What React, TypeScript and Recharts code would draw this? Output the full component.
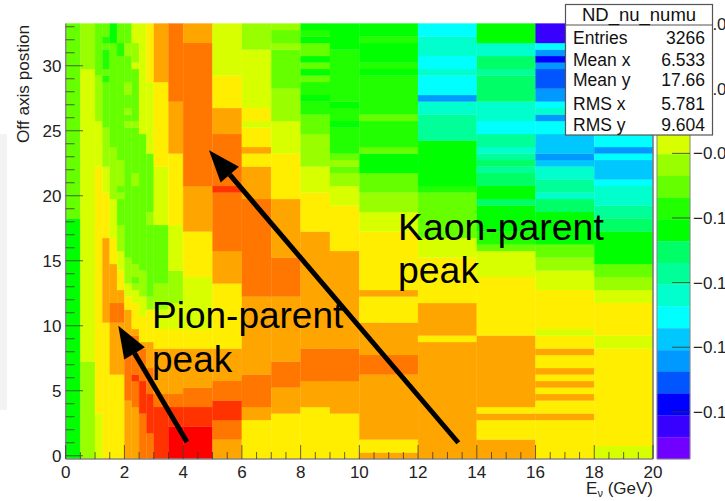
import React from 'react';
import { ScatterChart, Scatter, XAxis, YAxis, ReferenceArea, ReferenceLine } from 'recharts';

// energy bin edges (GeV)
const xEdges = [0, 0.5, 1, 1.25, 1.5, 1.75, 2, 2.25, 2.5, 2.75, 3, 3.5, 4, 5, 6, 7, 8, 9, 10, 12, 14, 16, 18, 20];

// colour bands of the z palette, top of the colour bar first
const bandColors = [
  '#ff0000', '#ff3300', '#ff7700', '#ffa500', '#ffee00', '#d8ff00', '#99ff00', '#66ff00', '#22ff00', '#00ff00',
  '#00ff66', '#00ff99', '#00ffcc', '#00ffff', '#00c8ff', '#0099ff', '#0055ff', '#0000ff', '#3800ff', '#7000ff',
];
const zMin = -0.1746;
const zMax = -0.0398;
const zTicks = [-0.04, -0.06, -0.08, -0.1, -0.12, -0.14, -0.16];

// one list per energy bin: [last row of run, colour band], from bottom row up
const col00 = [[37, 9], [67, 7]];
const col01 = [[15, 6], [60, 5], [67, 6]];
const col02 = [[7, 5], [45, 4], [52, 5], [59, 6], [67, 7]];
const col03 = [[21, 4], [34, 3], [41, 4], [45, 5], [51, 6], [58, 7], [59, 8], [60, 7], [63, 8], [64, 7], [65, 8], [67, 7]];
const col04 = [[13, 4], [21, 3], [24, 2], [30, 3], [34, 4], [40, 5], [48, 6], [64, 7], [67, 9]];
const col05 = [[13, 4], [21, 3], [24, 2], [26, 3], [29, 4], [32, 5], [36, 6], [40, 7], [41, 6], [42, 7], [46, 6], [62, 7], [64, 8], [67, 7]];
const col06 = [[9, 3], [17, 2], [23, 3], [25, 4], [27, 5], [31, 6], [51, 7], [52, 6], [53, 7], [54, 6], [56, 7], [58, 6], [62, 7], [64, 6], [67, 7]];
const col07 = [[8, 3], [12, 2], [13, 1], [19, 2], [20, 3], [24, 4], [26, 5], [27, 6], [28, 7], [30, 6], [42, 7], [44, 6], [51, 7], [52, 6], [60, 7], [61, 5], [64, 6], [67, 5]];
const col08 = [[7, 2], [12, 1], [17, 2], [18, 3], [22, 4], [25, 5], [29, 6], [50, 7], [67, 5]];
const col09 = [[4, 2], [10, 1], [14, 2], [18, 3], [23, 4], [25, 6], [36, 7], [38, 6], [47, 7], [58, 5], [67, 4]];
const col10 = [[8, 1], [10, 2], [17, 3], [20, 4], [23, 5], [27, 6], [36, 7], [45, 5], [58, 4], [67, 3]];
const col11 = [[5, 0], [8, 1], [10, 2], [17, 3], [20, 4], [24, 5], [29, 6], [36, 5], [47, 4], [55, 3], [67, 2]];
const col12 = [[5, 0], [8, 1], [11, 2], [17, 3], [20, 4], [28, 5], [35, 4], [42, 3], [64, 2], [67, 3]];
const col13 = [[3, 3], [6, 2], [9, 1], [12, 2], [17, 3], [27, 4], [32, 3], [41, 2], [42, 1], [50, 2], [54, 3], [59, 4], [67, 5]];
const col14 = [[6, 4], [8, 3], [13, 2], [25, 3], [40, 2], [45, 3], [47, 4], [48, 3], [51, 4], [52, 5], [54, 4], [63, 5], [67, 6]];
const col15 = [[7, 4], [11, 3], [15, 2], [25, 3], [31, 2], [40, 3], [47, 4], [52, 5], [57, 6], [63, 7], [64, 6], [66, 7], [67, 6]];
const col16 = [[8, 4], [12, 3], [17, 2], [35, 3], [41, 4], [45, 5], [50, 6], [53, 7], [55, 8], [56, 9], [58, 8], [59, 7], [60, 9], [61, 7], [62, 9], [64, 7], [65, 9], [66, 8], [67, 9]];
const col17 = [[7, 4], [12, 3], [17, 2], [32, 3], [39, 4], [42, 5], [44, 6], [45, 7], [46, 6], [47, 7], [51, 8], [52, 9], [54, 8], [55, 9], [63, 8], [67, 9]];
const col18 = [[1, 3], [3, 4], [13, 3], [16, 2], [21, 3], [25, 4], [26, 3], [35, 4], [38, 5], [41, 6], [44, 7], [47, 9], [48, 7], [52, 8], [53, 7], [59, 8], [60, 9], [61, 8], [64, 9], [65, 8], [67, 9]];
const col19 = [[18, 3], [19, 4], [24, 3], [31, 4], [34, 5], [41, 7], [42, 8], [49, 9], [53, 11], [55, 12], [56, 15], [59, 13], [60, 12], [62, 13], [65, 12], [67, 13]];
const col20 = [[3, 3], [6, 4], [7, 3], [8, 4], [19, 3], [28, 4], [32, 5], [33, 7], [35, 8], [39, 9], [40, 10], [42, 9], [44, 10], [45, 11], [46, 10], [47, 11], [48, 12], [50, 11], [52, 13], [55, 12], [59, 10], [60, 11], [62, 10], [64, 12], [67, 9]];
const col21 = [[6, 4], [7, 3], [9, 4], [10, 3], [11, 4], [12, 3], [13, 4], [14, 3], [16, 4], [17, 3], [19, 4], [20, 5], [26, 4], [29, 5], [31, 6], [33, 7], [38, 9], [40, 10], [41, 12], [43, 11], [45, 12], [46, 14], [47, 15], [50, 14], [52, 13], [53, 15], [54, 12], [55, 13], [57, 15], [60, 16], [61, 15], [62, 17], [63, 15], [64, 13], [67, 18]];
const col22 = [[2, 5], [17, 4], [19, 5], [24, 4], [26, 5], [28, 6], [30, 7], [35, 9], [37, 10], [39, 11], [42, 12], [43, 13], [46, 14], [47, 13], [48, 15], [50, 13], [67, 14]];
const columns = [col00, col01, col02, col03, col04, col05, col06, col07, col08, col09, col10, col11, col12, col13, col14, col15, col16, col17, col18, col19, col20, col21, col22];

const xTicks = Array.from({ length: 41 }, (_, i) => i / 2);
const yTicks = Array.from({ length: 34 }, (_, i) => i);

const statRows = [
  ['Entries', '3266', 44],
  ['Mean x', '6.533', 66],
  ['Mean y', '17.66', 86],
  ['RMS x', '5.781', 110],
  ['RMS y', '9.604', 131],
];

const font = '"Liberation Sans", Arial, sans-serif';
const rowToY = (row: number) => row / 2 - 0.25;

const cells = columns.flatMap((runs, i) => {
  let prev = 0;
  return runs.map(([end, band]) => {
    const cell = { x1: xEdges[i], x2: xEdges[i + 1], y1: rowToY(prev), y2: rowToY(end), fill: bandColors[band] };
    prev = end;
    return cell;
  });
});
const cellCentres = cells.map((c) => ({ x: (c.x1 + c.x2) / 2, y: (c.y1 + c.y2) / 2 }));

const barBands = bandColors.map((fill, i) => {
  const step = (zMax - zMin) / bandColors.length;
  return { y1: zMax - step * (i + 1), y2: zMax - step * i, fill };
});
const barCentres = barBands.map((b) => ({ x: 0.5, z: (b.y1 + b.y2) / 2 }));

function XTick({ x, payload }: any) {
  const major = payload.value % 2 === 0;
  return (
    <g>
      <line x1={x} x2={x} y1={459} y2={major ? 445 : 452} stroke="#333" strokeOpacity={0.75} />
      {major && (
        <text x={x} y={478} textAnchor="middle" fontSize={17} fontFamily={font} fill="#222">{payload.value}</text>
      )}
    </g>
  );
}

function YTick({ y, payload }: any) {
  const major = payload.value % 5 === 0;
  return (
    <g>
      <line x1={65.7} x2={major ? 83 : 74.5} y1={y} y2={y} stroke="#333" strokeOpacity={0.75} />
      {major && (
        <text x={61.5} y={y + 6} textAnchor="end" fontSize={17} fontFamily={font} fill="#222">{payload.value}</text>
      )}
    </g>
  );
}

function ZTick({ y, payload }: any) {
  return (
    <g>
      <line x1={672} x2={690} y1={y} y2={y} stroke="#333" strokeOpacity={0.8} />
      <text x={693} y={y + 6} fontSize={17} fontFamily={font} fill="#222">
        {'\u2212' + Math.abs(payload.value).toFixed(2)}
      </text>
    </g>
  );
}

function Arrow({ x1, y1, x2, y2 }: any) {
  const len = Math.hypot(x2 - x1, y2 - y1);
  const ux = (x2 - x1) / len;
  const uy = (y2 - y1) / len;
  const bx = x2 - ux * 32;
  const by = y2 - uy * 32;
  return (
    <g>
      <line x1={x1} y1={y1} x2={bx} y2={by} stroke="#000" strokeWidth={5} />
      <polygon
        points={`${x2},${y2} ${bx - uy * 12},${by + ux * 12} ${bx + uy * 12},${by - ux * 12}`}
        fill="#000"
      />
    </g>
  );
}

export default function App() {
  return (
    <div style={{ position: 'absolute', left: 0, top: 0, width: 725, height: 501, overflow: 'hidden', background: '#fff' }}>
      <div style={{ position: 'absolute', left: 0, top: 134, width: 7, height: 276, background: '#f3f3f3' }} />

      <div style={{ position: 'absolute', left: 0, top: 0 }}>
        <ScatterChart width={725} height={501} margin={{ top: 23.5, right: 72, bottom: 41, left: 64.7 }}>
          {cells.map((c, i) => (
            <ReferenceArea
              key={i}
              x1={c.x1}
              x2={c.x2}
              y1={c.y1}
              y2={c.y2}
              fill={c.fill}
              fillOpacity={1}
              stroke={c.fill}
              strokeWidth={0.3}
              ifOverflow="visible"
            />
          ))}
          <Scatter data={cellCentres} isAnimationActive={false} shape={() => null} />
          <ReferenceLine x={20} stroke="#777" strokeWidth={1.5} ifOverflow="visible" />
          <XAxis
            type="number"
            dataKey="x"
            domain={[0, 20]}
            ticks={xTicks}
            interval={0}
            height={1}
            tickSize={0}
            stroke="#888"
            strokeWidth={1.5}
            tick={<XTick />}
          />
          <YAxis
            type="number"
            dataKey="y"
            domain={[-0.25, 33.25]}
            ticks={yTicks}
            interval={0}
            width={1}
            tickSize={0}
            stroke="#888"
            strokeWidth={1.5}
            tick={<YTick />}
          />
          <ReferenceLine segment={[{ x: 4.13, y: 1.06 }, { x: 1.79, y: 10.0 }]} shape={<Arrow />} ifOverflow="visible" />
          <ReferenceLine segment={[{ x: 13.37, y: 1.0 }, { x: 4.88, y: 23.5 }]} shape={<Arrow />} ifOverflow="visible" />
        </ScatterChart>
      </div>

      <div style={{ position: 'absolute', left: 0, top: 0 }}>
        <ScatterChart width={725} height={501} margin={{ top: 23.5, right: 34, bottom: 41, left: 657 }}>
          {barBands.map((b, i) => (
            <ReferenceArea key={i} x1={0} x2={1} y1={b.y1} y2={b.y2} fill={b.fill} fillOpacity={1} stroke={b.fill} strokeWidth={0.3} ifOverflow="visible" />
          ))}
          <Scatter data={barCentres} isAnimationActive={false} shape={() => null} />
          <ReferenceLine x={0} stroke="#888" ifOverflow="visible" />
          <ReferenceLine y={zMin} stroke="#888" ifOverflow="visible" />
          <XAxis type="number" dataKey="x" domain={[0, 1]} height={1} tick={false} axisLine={false} />
          <YAxis
            type="number"
            dataKey="z"
            orientation="right"
            domain={[zMin, zMax]}
            ticks={zTicks}
            interval={0}
            width={1}
            tickSize={0}
            stroke="#888"
            tick={<ZTick />}
          />
        </ScatterChart>
      </div>

      <svg width={725} height={501} style={{ position: 'absolute', left: 0, top: 0 }} fontFamily={font}>
        <text x={152} y={328} fontSize={37} fill="#000">Pion-parent</text>
        <text x={152} y={372} fontSize={37} fill="#000">peak</text>
        <text x={398} y={240} fontSize={37.4} fill="#000">Kaon-parent</text>
        <text x={398} y={283} fontSize={37.4} fill="#000">peak</text>

        <text transform="translate(29,143) rotate(-90)" fontSize={17.2} fill="#222">Off axis postion</text>
        <text x={653} y={494} textAnchor="end" fontSize={17} fill="#222">
          E<tspan fontSize={11} dy={3}>ν</tspan><tspan dy={-3}> (GeV)</tspan>
        </text>

        <rect x={565.5} y={4.5} width={147} height={130.5} fill="#fff" stroke="#555" strokeWidth={1.2} />
        <line x1={565.5} x2={712.5} y1={25} y2={25} stroke="#555" strokeWidth={1.2} />
        <text x={639} y={21} textAnchor="middle" fontSize={18.5} fill="#111">ND_nu_numu</text>
        {statRows.map(([name, value, y]) => (
          <g key={name as string}>
            <text x={573} y={y as number} fontSize={17.5} fill="#111">{name}</text>
            <text x={705} y={y as number} textAnchor="end" fontSize={17.5} fill="#111">{value}</text>
          </g>
        ))}
      </svg>
    </div>
  );
}
